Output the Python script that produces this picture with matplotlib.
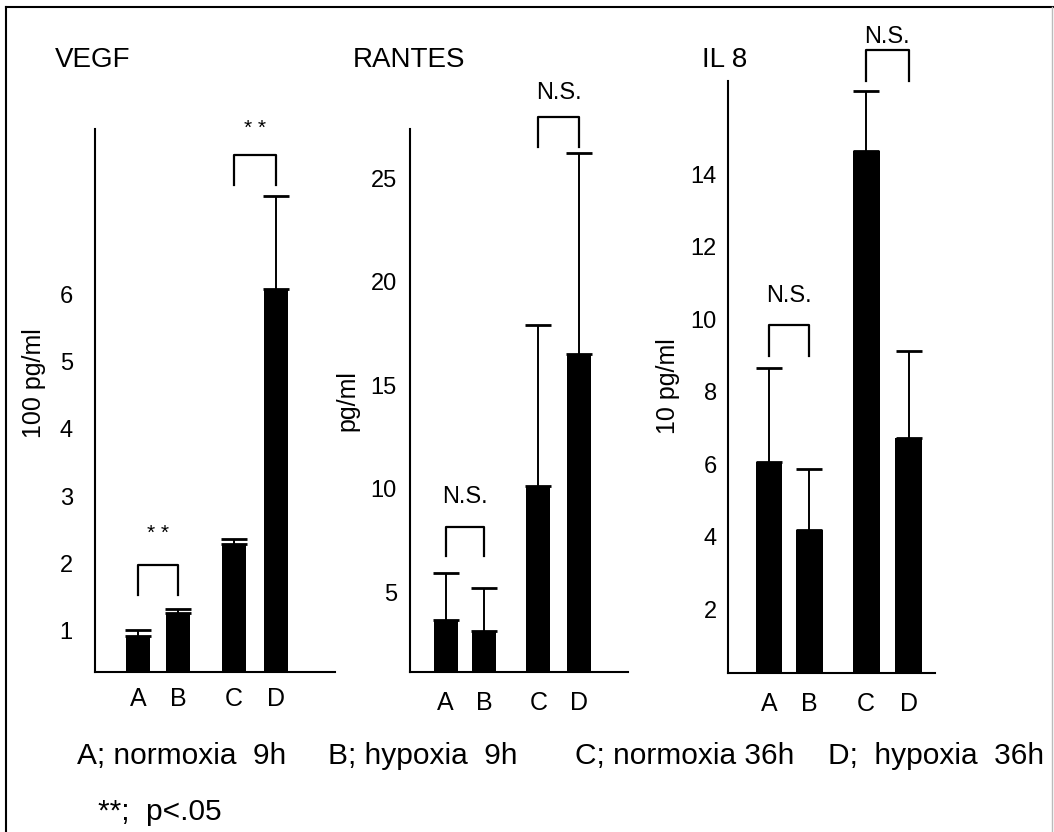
import numpy as np
import matplotlib.pyplot as plt
from matplotlib.lines import Line2D

plt.rcParams['font.family'] = ['Liberation Sans', 'DejaVu Sans']

W, H = 1054, 832

groups = ['A', 'B', 'C', 'D']
x_pos = [0, 1, 2.4, 3.45]

vegf_mean = [0.93, 1.26, 2.29, 6.07]
vegf_sd = [0.09, 0.07, 0.07, 1.38]
rantes_mean = [3.66, 3.16, 10.12, 16.52]
rantes_sd = [2.26, 2.06, 7.80, 9.70]
il8_mean = [6.06, 4.18, 14.63, 6.73]
il8_sd = [2.59, 1.69, 1.66, 2.40]

vegf_ticks = [1, 2, 3, 4, 5, 6]
rantes_ticks = [5, 10, 15, 20, 25]
il8_ticks = [2, 4, 6, 8, 10, 12, 14]

# (left bar, right bar, leg bottom, bracket top, label, label y)
vegf_sig = [(0, 1, 1.53, 1.98, '* *', 2.45), (2, 3, 7.62, 8.06, '* *', 8.46)]
rantes_sig = [(0, 1, 6.75, 8.15, 'N.S.', 9.32), (2, 3, 26.5, 27.97, 'N.S.', 28.82)]
il8_sig = [(0, 1, 8.98, 9.84, 'N.S.', 10.48), (2, 3, 16.58, 17.42, 'N.S.', 17.62)]

legend_lines = ['A; normoxia  9h', 'B; hypoxia  9h', 'C; normoxia 36h', 'D;  hypoxia  36h']

fig = plt.figure(figsize=(W / 100, H / 100), dpi=100)


def axes_px(left, right, top, bottom):
    return fig.add_axes([left / W, 1 - bottom / H, (right - left) / W, (bottom - top) / H])


panels = [
    dict(box=(95, 335, 129, 672), mean=vegf_mean, sd=vegf_sd, ticks=vegf_ticks,
         ylim=(0.39, 8.45), xlim=(-1.075, 4.925), sig=vegf_sig, width=0.58,
         title='VEGF', title_x=55, ylabel='100 pg/ml', ylab_xy=(34, 383),
         ypad=16, xpad=10.5),
    dict(box=(410, 628, 129, 672), mean=rantes_mean, sd=rantes_sd, ticks=rantes_ticks,
         ylim=(1.16, 27.37), xlim=(-0.92, 4.72), sig=rantes_sig, width=0.62,
         title='RANTES', title_x=353, ylabel='pg/ml', ylab_xy=(347, 401),
         ypad=9.5, xpad=14),
    dict(box=(728, 935, 81, 673), mean=il8_mean, sd=il8_sd, ticks=il8_ticks,
         ylim=(0.24, 16.57), xlim=(-1.01, 4.1), sig=il8_sig, width=0.66,
         title='IL 8', title_x=702, ylabel='10 pg/ml', ylab_xy=(668, 386),
         ypad=8, xpad=14),
]

for p in panels:
    ax = axes_px(*p['box'])
    ax.bar(x_pos, p['mean'], width=p['width'], color='black')
    ax.errorbar(x_pos, p['mean'], yerr=[np.zeros(len(p['sd'])), p['sd']], fmt='none',
                ecolor='black', elinewidth=1.4, capsize=9.5, capthick=2)
    for i, j, yb, yt, label, ty in p['sig']:
        ax.plot([x_pos[i], x_pos[i], x_pos[j], x_pos[j]], [yb, yt, yt, yb],
                color='black', lw=1.6, clip_on=False)
        stars = label.startswith('*')
        ax.text((x_pos[i] + x_pos[j]) / 2, ty, label, ha='center',
                va='center' if stars else 'baseline',
                fontsize=15 if stars else 17, clip_on=False)
    ax.set_xlim(*p['xlim'])
    ax.set_ylim(*p['ylim'])
    ax.set_yticks(p['ticks'])
    ax.set_xticks(x_pos, groups)
    ax.tick_params(axis='y', length=0, labelsize=17, pad=p['ypad'])
    ax.tick_params(axis='x', length=0, labelsize=18, pad=p['xpad'])
    for side in ['top', 'right']:
        ax.spines[side].set_visible(False)
    for side in ['left', 'bottom']:
        ax.spines[side].set_linewidth(1.5)
    ax.patch.set_alpha(0)
    fig.text(p['title_x'] / W, 1 - 67 / H, p['title'], fontsize=20, ha='left', va='baseline')
    fig.text(p['ylab_xy'][0] / W, 1 - p['ylab_xy'][1] / H, p['ylabel'], fontsize=18,
             rotation=90, ha='center', va='center')

legend_x = [77, 328, 575, 828]
for lx, txt in zip(legend_x, legend_lines):
    fig.text(lx / W, 1 - 764 / H, txt, fontsize=21.5, ha='left', va='baseline')
fig.text(98 / W, 1 - 820 / H, '**;  p<.05', fontsize=21.5, ha='left', va='baseline')

# frame of the scanned figure
fig.add_artist(Line2D([6 / W, 6 / W], [0, 1 - 7 / H], color='black', lw=1.5))
fig.add_artist(Line2D([6 / W, 1], [1 - 7 / H, 1 - 7 / H], color='black', lw=1.5))
fig.add_artist(Line2D([1052 / W, 1052 / W], [0, 1 - 7 / H], color='#bbbbbb', lw=1))

fig.savefig('out.png', dpi=100)
